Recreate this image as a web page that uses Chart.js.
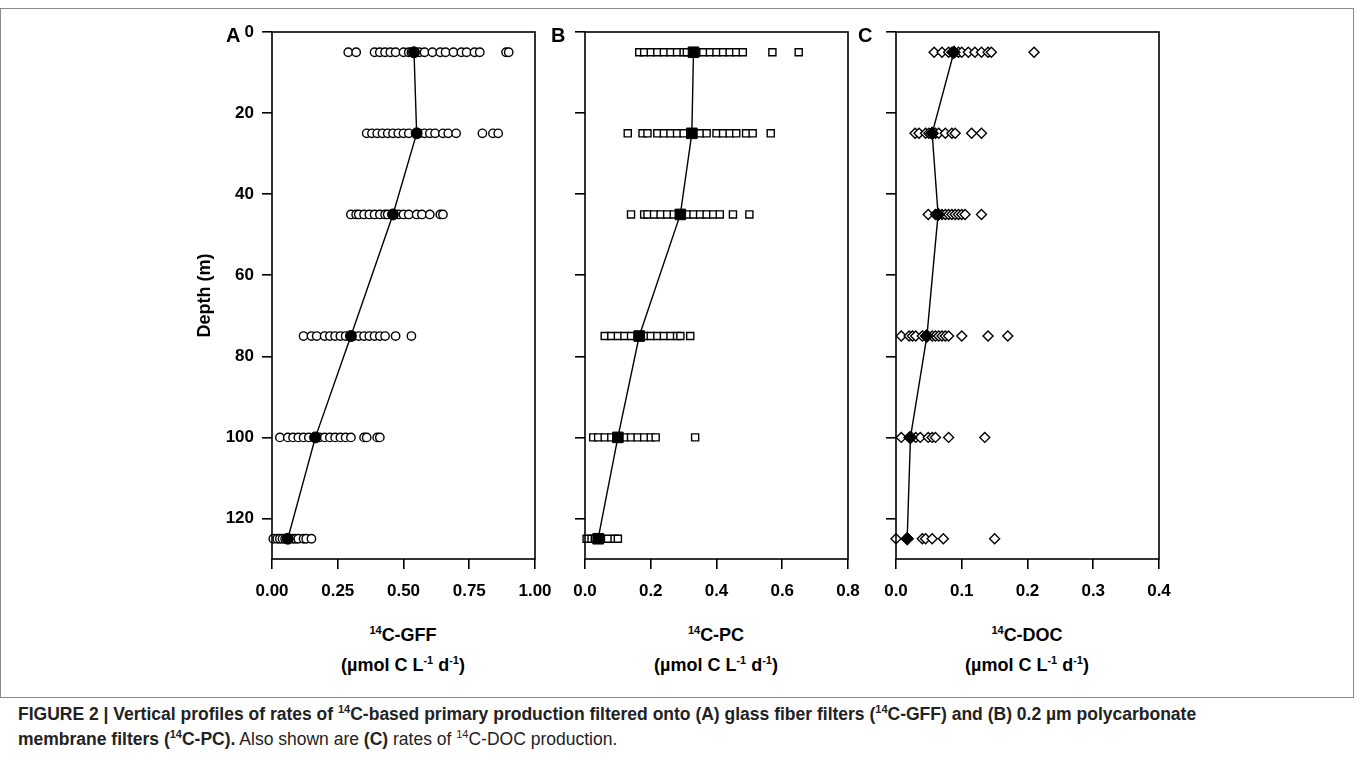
<!DOCTYPE html>
<html>
<head>
<meta charset="utf-8">
<script src="https://cdn.jsdelivr.net/npm/chart.js@4.4.1/dist/chart.umd.min.js"></script>
<style>
  body { margin: 0; background: #fff; font-family: "Liberation Sans", Arial, sans-serif; }
  #frame { position: absolute; left: 0; top: 8px; width: 1352px; height: 688px; border: 1px solid #8a8a8a; }
  canvas { position: absolute; }
  .letter { position: absolute; font-weight: bold; font-size: 20px; line-height: 20px; }
  .xtitle { position: absolute; width: 300px; text-align: center; font-weight: bold; font-size: 18px; line-height: 30px; }
  .xtitle sup { font-size: 11px; vertical-align: 7px; line-height: 0; }
  #caption { position: absolute; left: 18px; top: 702px; font-size: 17.5px; line-height: 25px; color: #222; }
  #caption sup { font-size: 11px; vertical-align: 7px; line-height: 0; }
</style>
</head>
<body>
<div id="frame"></div>
<canvas id="chartA" width="380" height="590" style="left:180px;top:20px"></canvas>
<canvas id="chartB" width="328" height="590" style="left:545px;top:20px"></canvas>
<canvas id="chartC" width="328" height="590" style="left:856px;top:20px"></canvas>

<div class="letter" style="left:226px;top:25px">A</div>
<div class="letter" style="left:551px;top:25px">B</div>
<div class="letter" style="left:858px;top:25px">C</div>

<div class="xtitle" style="left:253px;top:620px"><sup>14</sup>C-GFF<br>(&micro;mol C L<sup>-1</sup> d<sup>-1</sup>)</div>
<div class="xtitle" style="left:566px;top:620px"><sup>14</sup>C-PC<br>(&micro;mol C L<sup>-1</sup> d<sup>-1</sup>)</div>
<div class="xtitle" style="left:877px;top:620px"><sup>14</sup>C-DOC<br>(&micro;mol C L<sup>-1</sup> d<sup>-1</sup>)</div>

<div id="caption"><b>FIGURE 2 | Vertical profiles of rates of <sup>14</sup>C-based primary production filtered onto (A) glass fiber filters (<sup>14</sup>C-GFF) and (B) 0.2 &micro;m polycarbonate<br>membrane filters (<sup>14</sup>C-PC).</b> Also shown are <b>(C)</b> rates of <sup>14</sup>C-DOC production.</div>

<script>
// sampling depths (m)
const depths = [5, 25, 45, 75, 100, 125];
const depthTicks = [0, 20, 40, 60, 80, 100, 120];

// 14C-GFF individual rates, one list per depth
const gffRates = [
  [0.29, 0.32, 0.39, 0.41, 0.43, 0.45, 0.47, 0.50, 0.52, 0.53, 0.56, 0.58, 0.61, 0.64, 0.66, 0.69, 0.72, 0.74, 0.77, 0.79, 0.89, 0.90],
  [0.36, 0.38, 0.40, 0.42, 0.44, 0.46, 0.48, 0.50, 0.52, 0.56, 0.58, 0.60, 0.62, 0.65, 0.67, 0.70, 0.80, 0.84, 0.86],
  [0.30, 0.32, 0.33, 0.35, 0.37, 0.39, 0.41, 0.43, 0.44, 0.46, 0.48, 0.50, 0.52, 0.55, 0.57, 0.60, 0.64, 0.65],
  [0.12, 0.15, 0.17, 0.20, 0.22, 0.24, 0.26, 0.28, 0.30, 0.31, 0.33, 0.35, 0.37, 0.39, 0.41, 0.43, 0.47, 0.53],
  [0.03, 0.06, 0.08, 0.10, 0.12, 0.14, 0.16, 0.18, 0.20, 0.22, 0.24, 0.26, 0.28, 0.30, 0.35, 0.36, 0.40, 0.41],
  [0.005, 0.02, 0.03, 0.04, 0.05, 0.06, 0.08, 0.09, 0.10, 0.12, 0.13, 0.15]
];
const gffMean = [0.54, 0.55, 0.46, 0.30, 0.165, 0.06];

// 14C-PC individual rates
const pcRates = [
  [0.165, 0.18, 0.20, 0.22, 0.24, 0.26, 0.28, 0.30, 0.31, 0.34, 0.36, 0.38, 0.40, 0.42, 0.44, 0.46, 0.48, 0.57, 0.65],
  [0.13, 0.175, 0.19, 0.22, 0.24, 0.26, 0.28, 0.30, 0.33, 0.35, 0.37, 0.40, 0.42, 0.44, 0.46, 0.49, 0.51, 0.565],
  [0.14, 0.18, 0.19, 0.21, 0.23, 0.25, 0.27, 0.29, 0.31, 0.33, 0.35, 0.37, 0.39, 0.41, 0.45, 0.50],
  [0.06, 0.08, 0.10, 0.12, 0.14, 0.16, 0.18, 0.20, 0.22, 0.24, 0.26, 0.28, 0.29, 0.32],
  [0.025, 0.04, 0.06, 0.08, 0.10, 0.12, 0.14, 0.16, 0.18, 0.20, 0.215, 0.335],
  [0.005, 0.02, 0.03, 0.04, 0.05, 0.07, 0.09, 0.10]
];
const pcMean = [0.33, 0.325, 0.29, 0.165, 0.10, 0.04];

// 14C-DOC individual rates
const docRates = [
  [0.058, 0.07, 0.08, 0.085, 0.095, 0.10, 0.11, 0.12, 0.13, 0.14, 0.145, 0.21],
  [0.029, 0.035, 0.045, 0.05, 0.06, 0.065, 0.075, 0.085, 0.09, 0.115, 0.13],
  [0.049, 0.06, 0.07, 0.075, 0.08, 0.085, 0.09, 0.095, 0.10, 0.105, 0.13],
  [0.008, 0.02, 0.025, 0.03, 0.04, 0.045, 0.055, 0.06, 0.065, 0.07, 0.075, 0.08, 0.10, 0.14, 0.17],
  [0.008, 0.02, 0.03, 0.037, 0.049, 0.055, 0.06, 0.08, 0.135],
  [0.0, 0.04, 0.045, 0.055, 0.072, 0.15]
];
const docMean = [0.088, 0.055, 0.064, 0.047, 0.022, 0.017];

const gffTicks = [0, 0.25, 0.5, 0.75, 1.0];
const pcTicks = [0, 0.2, 0.4, 0.6, 0.8];
const docTicks = [0, 0.1, 0.2, 0.3, 0.4];

const tickFont = { family: "'Liberation Sans', Arial, sans-serif", size: 17, weight: 'bold' };

// top and right lines of the plot box
const boxPlugin = {
  id: 'box',
  afterDraw(chart) {
    const a = chart.chartArea, ctx = chart.ctx;
    ctx.save();
    ctx.strokeStyle = '#000';
    ctx.lineWidth = 1.6;
    ctx.strokeRect(a.left, a.top, a.right - a.left, a.bottom - a.top);
    ctx.restore();
  }
};

function makePanel(id, rates, means, xTicks, decimals, marker, r, meanR, leftW, showY) {
  let pts = [];
  rates.forEach((row, i) => row.forEach(v => pts.push({ x: v, y: depths[i] })));
  const meanPts = means.map((v, i) => ({ x: v, y: depths[i] }));

  return new Chart(document.getElementById(id).getContext('2d'), {
    type: 'scatter',
    data: {
      datasets: [
        {
          type: 'line',
          data: meanPts,
          order: 0,
          borderColor: '#000',
          borderWidth: 1.4,
          pointStyle: marker,
          pointRadius: meanR,
          pointBackgroundColor: '#000',
          pointBorderColor: '#000',
          pointBorderWidth: 1,
          clip: false
        },
        {
          data: pts,
          order: 1,
          pointStyle: marker,
          pointRadius: r,
          pointBackgroundColor: '#fff',
          pointBorderColor: '#000',
          pointBorderWidth: 1.4,
          clip: false
        }
      ]
    },
    options: {
      responsive: false,
      animation: false,
      layout: { padding: { top: 12, right: 25, left: 0, bottom: 0 } },
      plugins: { legend: { display: false }, tooltip: { enabled: false } },
      scales: {
        x: {
          type: 'linear',
          min: 0,
          max: xTicks[xTicks.length - 1],
          afterBuildTicks: s => { s.ticks = xTicks.map(v => ({ value: v })); },
          afterFit: s => { s.height = 51; s.paddingLeft = 0; s.paddingRight = 0; },
          border: { display: false },
          grid: { drawOnChartArea: false, tickLength: 10, color: '#000', lineWidth: 1.6 },
          ticks: {
            padding: 12,
            color: '#000',
            font: tickFont,
            maxRotation: 0,
            callback: v => v.toFixed(decimals)
          }
        },
        y: {
          type: 'linear',
          reverse: true,
          min: 0,
          max: 130,
          afterBuildTicks: s => { s.ticks = depthTicks.map(v => ({ value: v })); },
          afterFit: s => { s.width = leftW; s.paddingTop = 0; s.paddingBottom = 0; },
          border: { display: false },
          grid: { drawOnChartArea: false, tickLength: 10, color: '#000', lineWidth: 1.6 },
          ticks: {
            padding: 8,
            color: '#000',
            font: tickFont,
            callback: v => showY ? String(v) : ''
          },
          title: {
            display: showY,
            text: 'Depth (m)',
            color: '#000',
            font: { family: "'Liberation Sans', Arial, sans-serif", size: 18, weight: 'bold' },
            padding: { top: 14, bottom: 0 }
          }
        }
      }
    },
    plugins: [boxPlugin]
  });
}

makePanel('chartA', gffRates, gffMean, gffTicks, 2, 'circle', 4.2, 5.5, 92, true);
makePanel('chartB', pcRates, pcMean, pcTicks, 1, 'rect', 5, 7.5, 40, false);
makePanel('chartC', docRates, docMean, docTicks, 1, 'rectRot', 5, 6.5, 40, false);
</script>
</body>
</html>
